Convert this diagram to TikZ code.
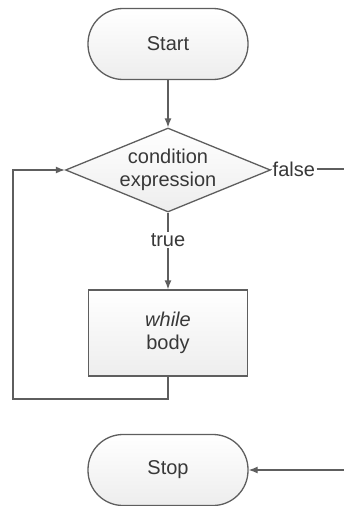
\documentclass[tikz,border=0pt]{standalone}
\usepackage{fontspec}
\setmainfont{Liberation Sans}
\usetikzlibrary{shapes.geometric,arrows.meta}
\definecolor{edge}{HTML}{5E5E5E}
\definecolor{ink}{HTML}{383838}
\begin{document}
\begin{tikzpicture}[x=1pt,y=-1pt,
  font=\fontsize{20}{23}\selectfont, text=ink,
  shapebox/.style={draw=edge, line width=1.3pt, top color=white, bottom color=gray!14, align=center, inner sep=0pt},
  terminal/.style={shapebox, rectangle, rounded corners=35pt, minimum width=160pt, minimum height=71pt},
  decision/.style={shapebox, diamond, aspect=2.44, minimum width=205pt, minimum height=84pt},
  process/.style={shapebox, rectangle, minimum width=159pt, minimum height=86pt},
  flow/.style={draw=edge, line width=1.3pt},
  arrow/.style={flow, -{Latex[length=9pt,width=7pt]}},
  lbl/.style={fill=white, inner sep=1.5pt}]
  \useasboundingbox (0,0) rectangle (344,506);
  \clip (0,0) rectangle (344,506);

  \node[terminal] (start) at (168,44) {Start};
  \node[decision] (cond) at (168,170) {condition\\expression};
  \node[lbl] (true) at (168,240) {true};
  \node[process] (body) at (168,333) {\textit{while}\\body};
  \node[terminal] (stop) at (168,470) {Stop};
  \node[lbl, anchor=west] (false) at (271,169) {false};

  \coordinate (loop) at (13,399);
  \coordinate (exit) at (360,169);

  \draw[arrow] (start) -- (cond);
  \draw[flow] (cond) -- (true);
  \draw[arrow] (true) -- (body);
  \draw[arrow] (body.south) |- (loop) |- (cond.west);
  \draw[flow] (cond.east) -- (false.west);
  \draw[arrow] (false.east) -- (exit) |- (stop.east);
\end{tikzpicture}
\end{document}
